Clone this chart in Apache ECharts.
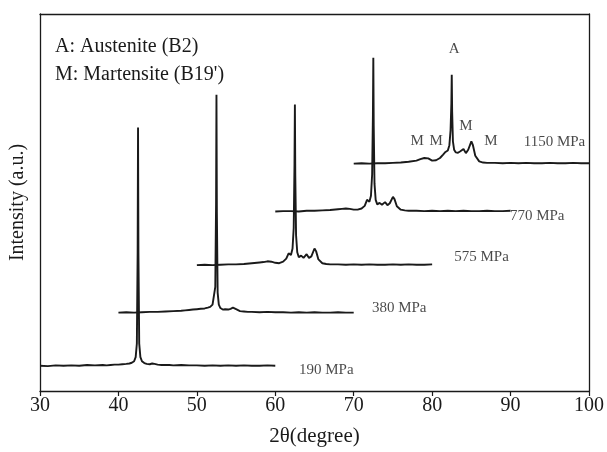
<!DOCTYPE html>
<html>
<head>
<meta charset="utf-8">
<script src="https://cdn.jsdelivr.net/npm/echarts@6/dist/echarts.min.js"></script>
<style>
html,body{margin:0;padding:0;background:#fff;}
#chart{width:607px;height:452px;}
</style>
</head>
<body>
<div id="chart"></div>
<script>
// 2θ offset from the start of each trace (degrees)
const relTheta = [0,1,2,3,4,5,6,7,8,8.5,9,9.5,10,10.5,11,11.4,11.7,12.0,12.2,12.35,12.45,12.5,12.55,12.65,12.8,13.0,13.3,13.6,14.0,14.3,14.6,15.0,15.2,15.5,16.0,16.5,17,18,19,20,21,22,23,24,25,26,27,28,29,30];
// start 2θ of each plotted trace (waterfall shift)
const traceStart = [30, 40, 50, 60, 70];
// vertical offset of each trace (a.u.)
const traceOffset = [6.6, 20.6, 33.3, 47.5, 60.2];
const traceNames = ['190 MPa', '380 MPa', '575 MPa', '770 MPa', '1150 MPa'];

const i190 = [0.1,0.0,0.2,0.1,0.2,0.1,0.3,0.2,0.3,0.2, 0.3,0.4,0.4,0.5,0.6,0.7,0.9,1.3,2.4,6.0, 30,63.3,30,6.0,2.4,1.3,0.8,0.6,0.5,0.7, 0.6,0.4,0.4,0.3,0.3,0.3,0.2,0.3,0.2,0.2, 0.1,0.2,0.1,0.2,0.1,0.2,0.1,0.1,0.2,0.1];
const i380 = [0.2,0.3,0.2,0.3,0.4,0.4,0.5,0.6,0.7,0.8, 0.9,1.0,1.1,1.2,1.3,1.5,1.7,2.3,2.6,7.0, 29,58.0,27,5.5,2.3,1.4,1.0,1.1,1.0,1.2, 1.5,1.1,0.8,0.6,0.5,0.4,0.4,0.3,0.4,0.3, 0.3,0.2,0.3,0.2,0.3,0.2,0.2,0.3,0.2,0.2];
const i575 = [0.1,0.2,0.1,0.2,0.3,0.3,0.4,0.6,0.8,0.9, 1.1,1.0,0.7,0.6,1.0,1.8,3.2,2.8,4.5,10, 27,42.7,24,8.0,3.5,2.2,2.6,2.0,3.0,2.0, 2.4,4.5,3.8,1.6,0.6,0.4,0.3,0.3,0.2,0.3, 0.2,0.3,0.2,0.2,0.3,0.2,0.3,0.2,0.2,0.3];
const i770 = [0.1,0.2,0.2,0.1,0.3,0.3,0.4,0.5,0.7,0.8, 0.9,0.8,0.6,0.6,0.9,1.6,3.2,2.7,4.3,10, 26,40.9,23,7.5,3.2,2.0,2.4,1.9,2.6,1.8, 2.3,4.0,3.4,1.5,0.6,0.4,0.3,0.3,0.2,0.3, 0.2,0.3,0.2,0.3,0.2,0.2,0.3,0.2,0.2,0.3];
const i1150 = [0.1,0.2,0.1,0.2,0.2,0.3,0.4,0.6,0.9,1.3, 1.6,1.5,0.9,1.0,1.6,2.5,3.2,3.6,5.0,9, 16,23.7,14,6.0,3.8,3.1,3.0,3.4,4.0,2.9, 3.8,6.0,5.0,2.2,0.7,0.4,0.3,0.3,0.2,0.3, 0.2,0.3,0.2,0.2,0.3,0.2,0.2,0.3,0.2,0.2];
const intensities = [i190, i380, i575, i770, i1150];

const xTicks = [30, 40, 50, 60, 70, 80, 90, 100];

const serif = '"Liberation Serif", "DejaVu Serif", serif';
const ink = '#1a1a1a';

// annotation anchors in data coordinates
const annotations = [
  {text: '190 MPa', at: [66.5, 5.5], size: 15},
  {text: '380 MPa', at: [75.8, 21.9], size: 15},
  {text: '575 MPa', at: [86.3, 35.6], size: 15},
  {text: '770 MPa', at: [93.4, 46.4], size: 15},
  {text: '1150 MPa', at: [95.6, 66.0], size: 15},
  {text: 'A', at: [82.8, 90.8], size: 15},
  {text: 'M', at: [78.1, 66.2], size: 15},
  {text: 'M', at: [80.5, 66.2], size: 15},
  {text: 'M', at: [84.3, 70.2], size: 15},
  {text: 'M', at: [87.5, 66.2], size: 15}
];

const series = intensities.map((vals, k) => ({
  name: traceNames[k],
  type: 'line',
  showSymbol: false,
  symbol: 'none',
  silent: true,
  z: 2 + k,
  lineStyle: {color: ink, width: 1.9},
  data: relTheta.map((r, i) => [traceStart[k] + r, traceOffset[k] + vals[i]])
}));

series.push({
  type: 'scatter',
  symbolSize: 0,
  silent: true,
  z: 10,
  data: annotations.map(a => ({
    value: a.at,
    label: {show: true, position: 'inside', formatter: a.text, fontFamily: serif, fontSize: a.size, color: ink}
  }))
});

const chart = echarts.init(document.getElementById('chart'), null, {renderer: 'canvas'});
chart.setOption({
  animation: false,
  backgroundColor: '#fff',
  grid: {left: 40, right: 17, top: 14, bottom: 59},
  xAxis: [{
    type: 'value', min: 30, max: 100, interval: 10,
    name: '2θ(degree)', nameLocation: 'middle', nameGap: 35,
    nameTextStyle: {fontFamily: serif, fontSize: 21, color: ink},
    axisLine: {show: true, lineStyle: {color: ink, width: 1.3}},
    axisTick: {show: true, inside: false, length: 5, lineStyle: {color: ink, width: 1.2}},
    axisLabel: {fontFamily: serif, fontSize: 20, color: ink, margin: 5,
      formatter: v => xTicks.includes(v) ? String(v) : ''},
    splitLine: {show: false}
  }, {
    type: 'value', position: 'top', min: 30, max: 100,
    axisLine: {show: true, onZero: false, lineStyle: {color: ink, width: 1.3}},
    axisTick: {show: false}, axisLabel: {show: false}, splitLine: {show: false}
  }],
  yAxis: [{
    type: 'value', min: 0, max: 100,
    name: 'Intensity (a.u.)', nameLocation: 'middle', nameGap: 12, nameRotate: 90,
    nameTextStyle: {fontFamily: serif, fontSize: 20, color: ink},
    axisLine: {show: true, onZero: false, lineStyle: {color: ink, width: 1.3}},
    axisTick: {show: false}, axisLabel: {show: false}, splitLine: {show: false}
  }, {
    type: 'value', position: 'right', min: 0, max: 100,
    axisLine: {show: true, onZero: false, lineStyle: {color: ink, width: 1.3}},
    axisTick: {show: false}, axisLabel: {show: false}, splitLine: {show: false}
  }],
  graphic: [
    {type: 'text', left: 55, top: 37, style: {text: 'A: Austenite (B2)', font: '20px ' + serif, fill: ink}},
    {type: 'text', left: 55, top: 65, style: {text: "M: Martensite (B19')", font: '20px ' + serif, fill: ink}}
  ],
  series: series
});
</script>
</body>
</html>
